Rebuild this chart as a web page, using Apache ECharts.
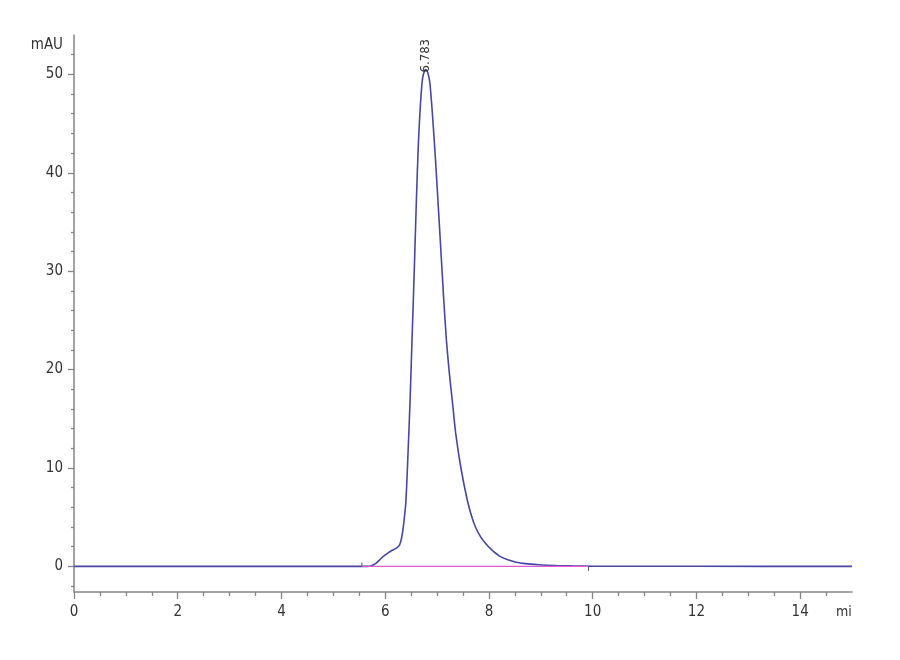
<!DOCTYPE html>
<html>
<head>
<meta charset="utf-8">
<style>
  html, body { margin: 0; padding: 0; background: #fff; }
  #chart { width: 900px; height: 660px; }
</style>
<script src="https://cdn.jsdelivr.net/npm/echarts@6/dist/echarts.min.js"></script>
</head>
<body>
<div id="chart"></div>
<script>
// retention time (min) and detector signal (mAU)
var times = [0, 5.55, 5.72, 5.82, 5.9, 5.97, 6.05, 6.11, 6.2, 6.27, 6.32, 6.36, 6.4, 6.44,
  6.48, 6.52, 6.56, 6.6, 6.64, 6.68, 6.72, 6.76, 6.78, 6.82, 6.86, 6.91, 6.97, 7.03, 7.08,
  7.13, 7.18, 7.23, 7.3, 7.36, 7.46, 7.58, 7.66, 7.74, 7.84, 7.94, 8.05, 8.19, 8.35, 8.51,
  8.7, 8.96, 9.3, 9.6, 10, 12, 15];
var signal = [0, 0, 0.05, 0.3, 0.7, 1.05, 1.35, 1.56, 1.8, 2.1, 3.0, 4.5, 6.7, 11.5,
  16.9, 23.5, 30, 37, 43, 47, 49.6, 50.4, 50.5, 50.2, 49.2, 46, 41.3, 36, 31.5,
  27, 23, 20, 16.5, 13.5, 10, 6.8, 5.2, 4.0, 3.0, 2.3, 1.7, 1.1, 0.7, 0.45,
  0.28, 0.17, 0.09, 0.05, 0.02, 0.01, 0];

// integration baseline start / end and peak
var baseStart = 5.55, baseEnd = 9.92;
var peakTime = 6.783, peakHeight = 50.5;

// axis ticks
var xMajor = [0, 2, 4, 6, 8, 10, 12, 14];
var xMinor = [0.5, 1, 1.5, 2.5, 3, 3.5, 4.5, 5, 5.5, 6.5, 7, 7.5, 8.5, 9, 9.5,
  10.5, 11, 11.5, 12.5, 13, 13.5, 14.5];
var yMajor = [0, 10, 20, 30, 40, 50];
var yMinor = [-2, 2, 4, 6, 8, 12, 14, 16, 18, 22, 24, 26, 28, 32, 34, 36, 38,
  42, 44, 46, 48, 52];

var axisGray = '#858585';
var font = "'Liberation Sans Narrow', 'DejaVu Sans Condensed', 'Liberation Sans', sans-serif";

var chart = echarts.init(document.getElementById('chart'), null, { renderer: 'canvas' });

var trace = times.map(function (t, i) { return [t, signal[i]]; });

function xAxisBase(extra) {
  var a = {
    type: 'value', min: 0, max: 15, position: 'bottom',
    axisLine: { onZero: false, lineStyle: { color: axisGray, width: 1.5 } },
    splitLine: { show: false }
  };
  for (var k in extra) a[k] = extra[k];
  return a;
}
function yAxisBase(extra) {
  var a = {
    type: 'value', min: -2.6, max: 54, position: 'left',
    axisLine: { onZero: false, lineStyle: { color: axisGray, width: 1.5 } },
    splitLine: { show: false }
  };
  for (var k in extra) a[k] = extra[k];
  return a;
}

chart.setOption({
  animation: false,
  backgroundColor: '#fff',
  grid: { left: 74, right: 48, top: 35, bottom: 68, containLabel: false, outerBoundsMode: 'none' },
  xAxis: [
    xAxisBase({
      axisTick: { customValues: xMajor, length: 7, lineStyle: { color: axisGray, width: 1.3 } },
      axisLabel: { customValues: xMajor, margin: 13, color: '#333', fontSize: 15, fontFamily: font }
    }),
    xAxisBase({
      axisLine: { show: false, onZero: false },
      axisTick: { customValues: xMinor, length: 4, lineStyle: { color: axisGray, width: 1.3 } },
      axisLabel: { show: false }
    })
  ],
  yAxis: [
    yAxisBase({
      axisTick: { customValues: yMajor, length: 6, lineStyle: { color: axisGray, width: 1.3 } },
      axisLabel: { customValues: yMajor, margin: 11, color: '#333', fontSize: 15, fontFamily: font }
    }),
    yAxisBase({
      axisLine: { show: false, onZero: false },
      axisTick: { customValues: yMinor, length: 3, lineStyle: { color: axisGray, width: 1.3 } },
      axisLabel: { show: false }
    })
  ],
  graphic: [
    { type: 'text', x: 63, y: 45, style: { text: 'mAU', fill: '#333', font: '15px ' + font, textAlign: 'right', textVerticalAlign: 'middle' } },
    { type: 'text', x: 836, y: 612, style: { text: 'min', fill: '#333', font: '14px ' + font, textAlign: 'left', textVerticalAlign: 'middle' } },
    { type: 'rect', x: 852, y: 598, shape: { width: 48, height: 30 }, style: { fill: '#fff' }, z: 100 }
  ],
  series: [
    {
      type: 'line', data: trace, showSymbol: false, smooth: 0.25,
      lineStyle: { color: '#4646a6', width: 1.6 },
      markPoint: {
        symbol: 'circle', symbolSize: 0,
        data: [{ coord: [peakTime, peakHeight] }],
        label: {
          show: true, position: 'top', distance: -3, rotate: 90,
          align: 'left', verticalAlign: 'middle',
          color: '#333', fontSize: 13, fontFamily: font,
          formatter: function () { return peakTime.toFixed(3); }
        }
      },
      z: 3
    },
    {
      type: 'line', data: [[baseStart, 0], [baseEnd, 0]], showSymbol: false,
      lineStyle: { color: '#e45ad2', width: 1.4 }, z: 4
    },
    {
      type: 'line', data: [[baseStart, 0], [baseStart, 0.4]], showSymbol: false,
      lineStyle: { color: '#555', width: 1 }, z: 4
    },
    {
      type: 'line', data: [[baseEnd, 0], [baseEnd, -0.45]], showSymbol: false,
      lineStyle: { color: '#555', width: 1 }, z: 4
    }
  ]
});
</script>
</body>
</html>
